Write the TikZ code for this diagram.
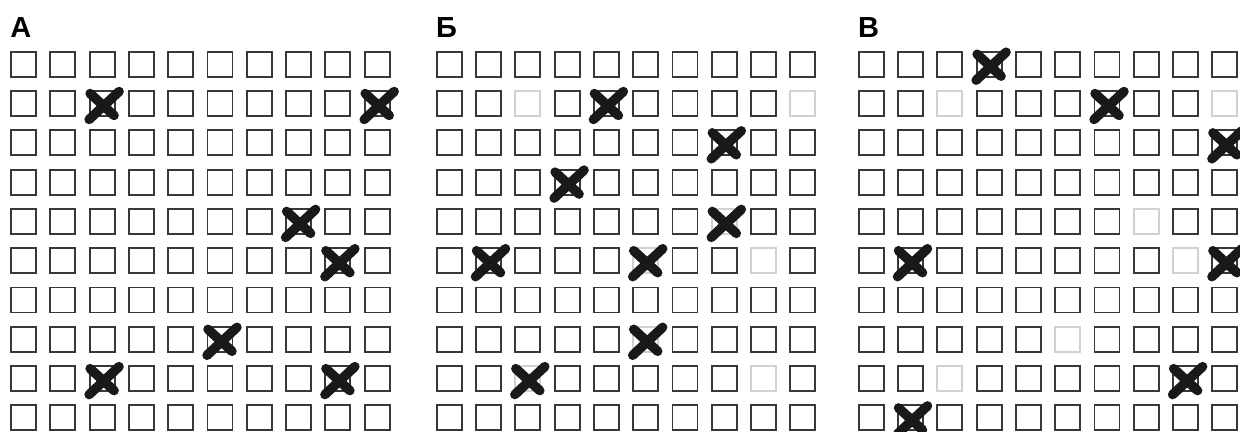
\documentclass[tikz,border=0pt]{standalone}
\usepackage{fontspec}
\setmainfont{Liberation Sans}
\newcommand{\drawcross}[2]{%
  \begin{scope}[shift={({13.5+(#1-1)*\p},{13.5+(#2-1)*\p})}]
    \draw[crossline] (-13,16) -- (17,-12) (-12,-10) -- (12,12);
  \end{scope}}
\newcommand{\greycell}[2]{%
  \fill[white] ({(#1-1)*\p-1},{(#2-1)*\p-1}) rectangle +(29,29);
  \draw[lightcell] ({1+(#1-1)*\p},{1+(#2-1)*\p}) rectangle +(25,25);}
\begin{document}
\begin{tikzpicture}[x=0.02cm, y=-0.02cm, line cap=round, line join=round]
	\tikzset{
		cell/.style={draw=black!78, line width=1.1pt, line cap=butt, line join=miter},
		lightcell/.style={draw=black!18, line width=1.1pt, line cap=butt, line join=miter},
		crossline/.style={draw=black!90, line width=5.4pt},
		lab/.style={anchor=base west, inner sep=0pt, font=\fontsize{16.5}{18}\selectfont\bfseries}
	}
	\def\p{39.3} % шаг сетки
	\useasboundingbox (0,0) rectangle (1240,432);
	% панель А
	\begin{scope}[shift={(10,50.7)}]
		\node[lab] (labA) at (0,-12.7) {А};
		\foreach \c in {1,...,10} {
			\foreach \r in {1,...,10} {
				\draw[cell] ({1+(\c-1)*\p},{1+(\r-1)*\p}) rectangle +(25,25);
			}
		}
		\foreach \c/\r in {3/2,10/2,8/5,9/6,6/8,3/9,9/9} {
			\drawcross{\c}{\r}
		}
	\end{scope}
	% панель Б
	\begin{scope}[shift={(435.7,50.7)}]
		\node[lab] (labB) at (0,-12.7) {Б};
		\foreach \c in {1,...,10} {
			\foreach \r in {1,...,10} {
				\draw[cell] ({1+(\c-1)*\p},{1+(\r-1)*\p}) rectangle +(25,25);
			}
		}
		\foreach \c/\r in {3/2,10/2,8/5,9/6,6/6,6/8,3/9,9/9} {
			\greycell{\c}{\r}
		}
		\foreach \c/\r in {5/2,8/3,4/4,8/5,2/6,6/6,6/8,3/9} {
			\drawcross{\c}{\r}
		}
	\end{scope}
	% панель В
	\begin{scope}[shift={(857.7,50.7)}]
		\node[lab] (labC) at (0,-12.7) {В};
		\foreach \c in {1,...,10} {
			\foreach \r in {1,...,10} {
				\draw[cell] ({1+(\c-1)*\p},{1+(\r-1)*\p}) rectangle +(25,25);
			}
		}
		\foreach \c/\r in {3/2,10/2,8/5,9/6,6/8,3/9} {
			\greycell{\c}{\r}
		}
		\foreach \c/\r in {4/1,7/2,10/3,2/6,10/6,9/9,2/10} {
			\drawcross{\c}{\r}
		}
	\end{scope}
\end{tikzpicture}
\end{document}
